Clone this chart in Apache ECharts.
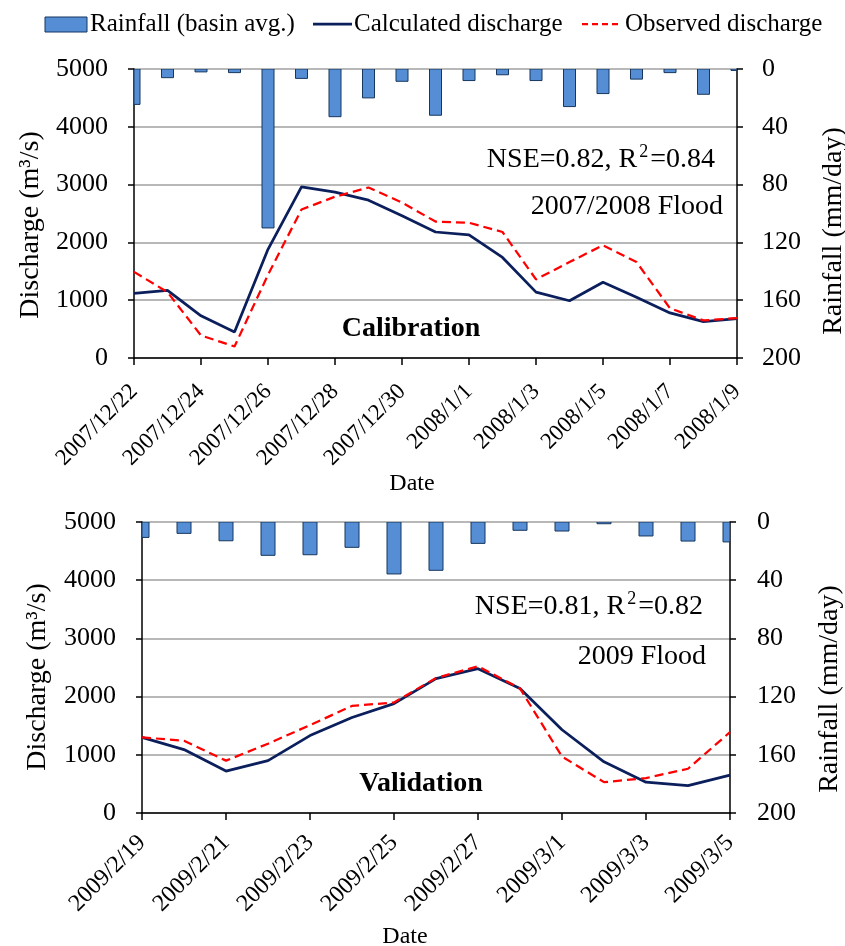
<!DOCTYPE html>
<html>
<head>
<meta charset="utf-8">
<script src="https://cdn.jsdelivr.net/npm/echarts@6/dist/echarts.min.js"></script>
<style>
  html, body { margin: 0; padding: 0; background: #ffffff; }
  #chart { width: 845px; height: 946px; }
</style>
</head>
<body>
<div id="chart"></div>
<script>
// Calibration event (2007/2008 flood)
const calDates = ['2007/12/22', '2007/12/23', '2007/12/24', '2007/12/25', '2007/12/26', '2007/12/27',
  '2007/12/28', '2007/12/29', '2007/12/30', '2007/12/31', '2008/1/1', '2008/1/2', '2008/1/3',
  '2008/1/4', '2008/1/5', '2008/1/6', '2008/1/7', '2008/1/8', '2008/1/9'];
const calRain = [24.5, 6, 2, 2.5, 110, 6.5, 33, 20, 8.5, 32, 8, 4, 8, 26, 17, 7, 2.5, 17.5, 1];
const calCalculated = [1120, 1170, 730, 450, 1880, 2960, 2870, 2730, 2460, 2180, 2130, 1740, 1140, 990, 1310, 1050, 780, 630, 680];
const calObserved = [1490, 1140, 390, 200, 1440, 2570, 2790, 2950, 2690, 2360, 2340, 2180, 1360, 1660, 1950, 1660, 860, 650, 690];

// Validation event (2009 flood)
const valDates = ['2009/2/19', '2009/2/20', '2009/2/21', '2009/2/22', '2009/2/23', '2009/2/24',
  '2009/2/25', '2009/2/26', '2009/2/27', '2009/2/28', '2009/3/1', '2009/3/2', '2009/3/3',
  '2009/3/4', '2009/3/5'];
const valRain = [10.6, 7.8, 12.9, 22.9, 22.5, 17.4, 35.7, 33.2, 14.7, 5.7, 6.2, 1.2, 9.6, 13.1, 13.7];
const valCalculated = [1300, 1090, 720, 900, 1330, 1640, 1880, 2310, 2480, 2140, 1430, 880, 530, 470, 650];
const valObserved = [1300, 1240, 900, 1190, 1510, 1840, 1900, 2320, 2520, 2140, 970, 530, 600, 760, 1390];

// Axis ranges and tick steps
const dischargeMax = 5000, dischargeStep = 1000;
const rainMax = 200, rainStep = 40;

const FONT = "'Liberation Serif', 'Times New Roman', serif";
const BAR_FILL = '#558ed5';
const BAR_EDGE = '#17375e';
const CALC_COLOR = '#0b1f5c';
const OBS_COLOR = '#ff0000';
const OBS_DASH = [9, 5];

const chart = echarts.init(document.getElementById('chart'), null, { renderer: 'canvas' });

function xAxisFor(gridIndex, dates, margin, size) {
  return {
    type: 'category', gridIndex, data: dates, boundaryGap: false,
    axisLine: { show: true, lineStyle: { color: '#000', width: 1.5 } },
    axisTick: { show: true, interval: 1, length: 7, inside: false, lineStyle: { color: '#000', width: 1.5 } },
    axisLabel: { interval: 1, rotate: 45, margin, fontSize: size, fontFamily: FONT, color: '#000' },
    splitLine: { show: false }
  };
}
function leftAxisFor(gridIndex) {
  return {
    type: 'value', gridIndex, position: 'left', min: 0, max: dischargeMax, interval: dischargeStep,
    axisLine: { show: true, onZero: false, lineStyle: { color: '#000', width: 1.5 } },
    axisTick: { show: true, length: 6, lineStyle: { color: '#000', width: 1.5 } },
    axisLabel: { margin: 26, fontSize: 26, fontFamily: FONT, color: '#000', formatter: v => String(v) },
    splitLine: { show: true, lineStyle: { color: '#a0a0a0', width: 1.5 } }
  };
}
function rightAxisFor(gridIndex, margin) {
  return {
    type: 'value', gridIndex, position: 'right', inverse: true, min: 0, max: rainMax, interval: rainStep,
    axisLine: { show: true, onZero: false, lineStyle: { color: '#000', width: 1.5 } },
    axisTick: { show: true, length: 6, lineStyle: { color: '#000', width: 1.5 } },
    axisLabel: { margin, fontSize: 26, fontFamily: FONT, color: '#000', formatter: v => String(v) },
    splitLine: { show: false }
  };
}
// Daily rainfall bars hanging from the top of the plot, centred on each date
// and trimmed to the plotting area at both ends.
function rainSeries(xi, yi, values, barW) {
  return {
    name: 'Rainfall (basin avg.)', type: 'custom', xAxisIndex: xi, yAxisIndex: yi,
    data: values.map((v, i) => [i, v]),
    encode: { x: 0, y: 1 },
    clip: true, silent: true, z: 2,
    renderItem(params, api) {
      const top = api.coord([api.value(0), 0]);
      const bottom = api.coord([api.value(0), api.value(1)]);
      const cs = params.coordSys;
      const shape = echarts.graphic.clipRectByRect(
        { x: top[0] - barW / 2, y: top[1], width: barW, height: bottom[1] - top[1] },
        { x: cs.x, y: cs.y, width: cs.width, height: cs.height }
      );
      if (!shape) return null;
      return { type: 'rect', shape, style: { fill: BAR_FILL, stroke: BAR_EDGE, lineWidth: 1 } };
    }
  };
}
function lineSeries(name, xi, yi, data, color, width, type) {
  return {
    name, type: 'line', xAxisIndex: xi, yAxisIndex: yi, data,
    symbol: 'none', showSymbol: false, smooth: false, silent: true,
    lineStyle: { color, width, type }, itemStyle: { color },
    emphasis: { disabled: true }, z: 3
  };
}
function label(text, x, y, size, extra, rotation) {
  const el = {
    type: 'text', x, y, silent: true,
    style: Object.assign({ text, fontSize: size, fontFamily: FONT, fill: '#000', align: 'center', verticalAlign: 'middle' }, extra || {})
  };
  if (rotation) el.rotation = rotation;
  return el;
}
function fitText(text1, text2, x, y) {
  return {
    type: 'text', x, y, silent: true,
    style: {
      text: '{t|' + text1 + '}{s|2}{t|' + text2 + '}',
      align: 'right', verticalAlign: 'middle',
      rich: {
        t: { fontSize: 28, fontFamily: FONT, fill: '#000', lineHeight: 34 },
        s: { fontSize: 18, fontFamily: FONT, fill: '#000', verticalAlign: 'top', lineHeight: 6, padding: [0, 2, 0, 2] }
      }
    }
  };
}

const legendY = 24;
const legendItems = [
  { type: 'rect', silent: true, shape: { x: 45, y: 17, width: 42, height: 15 },
    style: { fill: BAR_FILL, stroke: BAR_EDGE, lineWidth: 1 } },
  label('Rainfall (basin avg.)', 90, legendY, 25, { align: 'left' }),
  { type: 'line', silent: true, shape: { x1: 313, y1: legendY, x2: 352, y2: legendY },
    style: { stroke: CALC_COLOR, lineWidth: 2.75 } },
  label('Calculated discharge', 354, legendY, 25, { align: 'left' }),
  { type: 'line', silent: true, shape: { x1: 582, y1: legendY, x2: 621, y2: legendY },
    style: { stroke: OBS_COLOR, lineWidth: 2.25, lineDash: [6, 4] } },
  label('Observed discharge', 625, legendY, 25, { align: 'left' })
];

const option = {
  animation: false,
  backgroundColor: '#ffffff',
  textStyle: { fontFamily: FONT, color: '#000' },
  grid: [
    { left: 134, top: 69, width: 603, height: 289, containLabel: false, outerBoundsMode: 'none' },
    { left: 142, top: 522, width: 588, height: 291, containLabel: false, outerBoundsMode: 'none' }
  ],
  xAxis: [xAxisFor(0, calDates, 30, 23), xAxisFor(1, valDates, 26, 24)],
  yAxis: [leftAxisFor(0), rightAxisFor(0, 25), leftAxisFor(1), rightAxisFor(1, 27)],
  series: [
    rainSeries(0, 1, calRain, 12),
    lineSeries('Calculated discharge', 0, 0, calCalculated, CALC_COLOR, 2.75, 'solid'),
    lineSeries('Observed discharge', 0, 0, calObserved, OBS_COLOR, 2.25, OBS_DASH),
    rainSeries(1, 3, valRain, 14),
    lineSeries('Calculated discharge', 1, 2, valCalculated, CALC_COLOR, 2.75, 'solid'),
    lineSeries('Observed discharge', 1, 2, valObserved, OBS_COLOR, 2.25, OBS_DASH)
  ],
  graphic: legendItems.concat([
    // axis titles
    label('Discharge (m³/s)', 31, 225, 28, null, Math.PI / 2),
    label('Rainfall (mm/day)', 834, 231, 28, null, Math.PI / 2),
    label('Date', 412, 484, 24),
    label('Discharge (m³/s)', 38, 677, 28, null, Math.PI / 2),
    label('Rainfall (mm/day)', 830, 689, 28, null, Math.PI / 2),
    label('Date', 405, 937, 24),
    // panel annotations
    fitText('NSE=0.82, R', '=0.84', 715, 160),
    label('2007/2008 Flood', 723, 207, 28, { align: 'right' }),
    label('Calibration', 411, 329, 28, { fontWeight: 'bold' }),
    fitText('NSE=0.81, R', '=0.82', 703, 607),
    label('2009 Flood', 706, 657, 28, { align: 'right' }),
    label('Validation', 421, 784, 28, { fontWeight: 'bold' })
  ])
};

chart.setOption(option);
</script>
</body>
</html>
